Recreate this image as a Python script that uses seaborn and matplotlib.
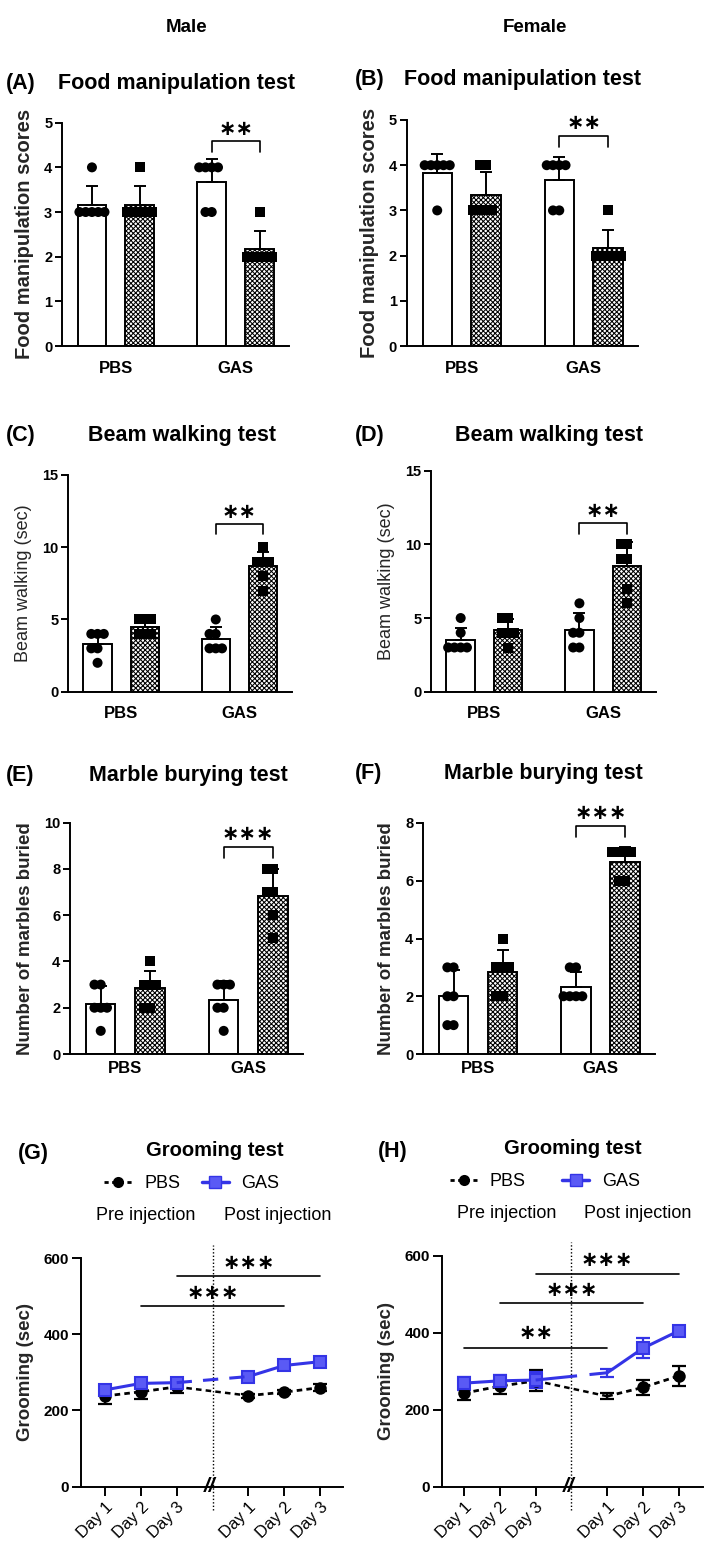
import matplotlib
matplotlib.use("Agg")
import matplotlib.pyplot as plt
import matplotlib.transforms as mtransforms
from matplotlib.lines import Line2D
import numpy as np
import pandas as pd
import seaborn as sns

# ---------------- data ----------------
treatments = ["PBS", "GAS"]
groups = ["Open", "Hatched"]          # open bar + circles, hatched bar + squares

# (A) Food manipulation, male
food_m_pbs_open = [4, 3, 3, 3, 3, 3]
food_m_pbs_hatch = [4, 3, 3, 3, 3, 3]
food_m_gas_open = [4, 4, 4, 4, 3, 3]
food_m_gas_hatch = [3, 2, 2, 2, 2, 2]
# (B) Food manipulation, female
food_f_pbs_open = [4, 4, 4, 4, 4, 3]
food_f_pbs_hatch = [4, 4, 3, 3, 3, 3]
food_f_gas_open = [4, 4, 4, 4, 3, 3]
food_f_gas_hatch = [3, 2, 2, 2, 2, 2]
# (C) Beam walking, male
beam_m_pbs_open = [4, 4, 4, 3, 3, 2]
beam_m_pbs_hatch = [5, 5, 5, 4, 4, 4]
beam_m_gas_open = [5, 4, 4, 3, 3, 3]
beam_m_gas_hatch = [10, 9, 9, 9, 8, 7]
# (D) Beam walking, female
beam_f_pbs_open = [5, 4, 3, 3, 3, 3]
beam_f_pbs_hatch = [5, 5, 4, 4, 4, 3]
beam_f_gas_open = [6, 5, 4, 4, 3, 3]
beam_f_gas_hatch = [10, 10, 9, 9, 7, 6]
# (E) Marble burying, male
marble_m_pbs_open = [3, 3, 2, 2, 2, 1]
marble_m_pbs_hatch = [4, 3, 3, 3, 2, 2]
marble_m_gas_open = [3, 3, 3, 2, 2, 1]
marble_m_gas_hatch = [8, 8, 7, 7, 6, 5]
# (F) Marble burying, female
marble_f_pbs_open = [3, 3, 2, 2, 1, 1]
marble_f_pbs_hatch = [4, 3, 3, 3, 2, 2]
marble_f_gas_open = [3, 3, 2, 2, 2, 2]
marble_f_gas_hatch = [7, 7, 7, 7, 6, 6]

# (G)/(H) Grooming (mean, error), pre injection Day1-3 then post injection Day1-3
day_labels = ["Day 1", "Day 2", "Day 3", "Day 1", "Day 2", "Day 3"]
groom_m_pbs = [238, 249, 262, 239, 248, 260]
groom_m_pbs_err = [20, 18, 16, 5, 6, 9]
groom_m_gas = [254, 271, 273, 289, 318, 328]
groom_m_gas_err = [14, 9, 8, 11, 9, 10]
groom_f_pbs = [243, 261, 275, 235, 258, 288]
groom_f_pbs_err = [19, 19, 27, 8, 19, 26]
groom_f_gas = [269, 275, 277, 296, 360, 405]
groom_f_gas_err = [17, 15, 20, 11, 26, 8]

# ---------------- style ----------------
sns.set_theme(style="ticks")
plt.rcParams["font.family"] = ["Liberation Sans", "DejaVu Sans"]
plt.rcParams["lines.scale_dashes"] = False
plt.rcParams["hatch.linewidth"] = 0.75
plt.rcParams["hatch.color"] = "black"
plt.rcParams["axes.linewidth"] = 1.4
plt.rcParams["text.color"] = "black"
plt.rcParams["xtick.color"] = "black"
plt.rcParams["ytick.color"] = "black"
plt.rcParams["axes.edgecolor"] = "black"

W, H = 709, 1555
fig = plt.figure(figsize=(W / 100, H / 100), dpi=100)
fig.patch.set_facecolor("white")

BLUE = "#3434e6"
BLUE_FILL = "#5a5af5"
STAR_FONT = dict(family="DejaVu Sans", fontweight="bold")


def rect(left, right, top, bottom):
    return [left / W, 1 - bottom / H, (right - left) / W, (bottom - top) / H]


def ftext(x, y, s, **kw):
    fig.text(x / W, 1 - y / H, s, **kw)


def make_df(pbs_open, pbs_hatch, gas_open, gas_hatch):
    rows = []
    for t, g, vals in [("PBS", "Open", pbs_open), ("PBS", "Hatched", pbs_hatch),
                       ("GAS", "Open", gas_open), ("GAS", "Hatched", gas_hatch)]:
        for v in vals:
            rows.append((t, g, v))
    return pd.DataFrame(rows, columns=["treatment", "group", "value"])


swarm_collections = []


def bar_panel(r, df, ymax, ystep, ylabel, ylab_size, ylab_weight, xpad,
              stars, br_top, br_low, star_y):
    ax = fig.add_axes(r)
    sns.barplot(data=df, x="treatment", y="value", hue="group", order=treatments,
                hue_order=groups, errorbar=None,
                palette={"Open": "white", "Hatched": "white"},
                edgecolor="black", linewidth=1.4, gap=0.4, legend=False, ax=ax,
                zorder=1)
    bar_conts = list(ax.containers[:2])
    for bar in bar_conts[1]:
        bar.set_hatch("xxxxxxx")
    stats = df.groupby(["treatment", "group"])["value"].agg(["mean", "std"])
    centers = {}
    for cont, g in zip(bar_conts, groups):
        for bar, t in zip(cont, treatments):
            xc = bar.get_x() + bar.get_width() / 2
            centers[(t, g)] = xc
            ax.errorbar(xc, stats.loc[(t, g), "mean"],
                        yerr=[[0], [stats.loc[(t, g), "std"]]], fmt="none",
                        ecolor="black", elinewidth=1.4, capsize=4.5, capthick=1.4,
                        zorder=2)
    n0 = len(ax.collections)
    for g, mk in zip(groups, ["o", "s"]):
        sns.swarmplot(data=df[df.group == g], x="treatment", y="value", hue="group",
                      order=treatments, hue_order=groups, dodge=True,
                      palette={"Open": "black", "Hatched": "black"}, marker=mk,
                      size=4.3, legend=False, ax=ax, zorder=4, warn_thresh=1)
    swarm_collections.extend(ax.collections[n0:])
    # significance bracket
    x1, x2 = centers[("GAS", "Open")], centers[("GAS", "Hatched")]
    ax.plot([x1, x1, x2, x2], [br_low, br_top, br_top, br_low], color="black",
            lw=1.2, clip_on=False, zorder=5)
    ax.text((x1 + x2) / 2, star_y, stars, ha="center", va="center", fontsize=15,
            clip_on=False, **STAR_FONT)
    ax.set_xlim(-0.45, 1.445)
    ax.set_ylim(0, ymax)
    ax.set_yticks(np.arange(0, ymax + 0.01, ystep))
    sns.despine(ax=ax)
    ax.tick_params(axis="x", length=0, pad=xpad, labelsize=12)
    ax.tick_params(axis="y", length=5, width=1.4, pad=2, labelsize=10.5)
    for lbl in ax.get_xticklabels() + ax.get_yticklabels():
        lbl.set_fontweight("bold")
    ax.set_xlabel("")
    ax.set_ylabel(ylabel, fontsize=ylab_size, fontweight=ylab_weight, labelpad=7)
    return ax


def groom_panel(r, pbs, pbs_err, gas, gas_err, sig, gas_gap_dash, hide_post1,
                xlim):
    ax = fig.add_axes(r)
    xs = np.arange(len(day_labels)) + (np.arange(len(day_labels)) >= 3)
    pre, post = slice(0, 3), slice(3, 6)
    post_mark = [1, 2] if hide_post1 else [0, 1, 2]
    pbs_style = (0, (4, 3))
    # error bars
    ax.errorbar(xs, pbs, yerr=pbs_err, fmt="none", ecolor="black", elinewidth=1.6,
                capsize=5, capthick=1.6, zorder=2)
    ax.errorbar(xs, gas, yerr=gas_err, fmt="none", ecolor=BLUE, elinewidth=1.6,
                capsize=5, capthick=1.6, zorder=2)
    # PBS lines
    sns.lineplot(x=xs[pre], y=pbs[pre], ax=ax, color="black", lw=2,
                 linestyle=pbs_style, marker="o", markersize=9,
                 markeredgewidth=0, zorder=3)
    sns.lineplot(x=xs[post], y=pbs[post], ax=ax, color="black", lw=2,
                 linestyle=pbs_style, marker="o", markersize=9, markeredgewidth=0,
                 markevery=post_mark, zorder=3)
    sns.lineplot(x=xs[2:4], y=pbs[2:4], ax=ax, color="black", lw=1.8,
                 linestyle=pbs_style, zorder=3)
    # GAS lines
    sns.lineplot(x=xs[pre], y=gas[pre], ax=ax, color=BLUE, lw=2.2,
                 marker="s", markersize=9, markerfacecolor=BLUE_FILL,
                 markeredgecolor=BLUE, markeredgewidth=1.5, zorder=4)
    sns.lineplot(x=xs[post], y=gas[post], ax=ax, color=BLUE, lw=2.2,
                 marker="s", markersize=9, markerfacecolor=BLUE_FILL,
                 markeredgecolor=BLUE, markeredgewidth=1.5, markevery=post_mark,
                 zorder=4)
    sns.lineplot(x=xs[2:4], y=gas[2:4], ax=ax, color=BLUE, lw=2.2,
                 linestyle=(0, gas_gap_dash), zorder=4)
    # break line and break mark
    ax.plot([3, 3], [-60, 635], color="black", lw=1, ls=(0, (1, 1.5)),
            clip_on=False, zorder=1)
    trans = mtransforms.blended_transform_factory(ax.transData, ax.transAxes)
    ax.text(2.93, 0.0, "//", transform=trans, ha="center", va="center",
            fontsize=15, fontweight="bold", fontstyle="italic", zorder=6)
    # significance lines
    for (a, b, yline, stars, ytext) in sig:
        ax.plot([xs[a], xs[b]], [yline, yline], color="black", lw=1.2, zorder=5)
        ax.text((xs[a] + xs[b]) / 2, ytext, stars, ha="center", va="center",
                fontsize=15, **STAR_FONT)
    ax.set_xlim(*xlim)
    ax.set_ylim(0, 600)
    ax.set_yticks([0, 200, 400, 600])
    ax.set_xticks(xs)
    ax.set_xticklabels(day_labels, rotation=45, ha="right", va="top",
                       rotation_mode="anchor", fontsize=12)
    sns.despine(ax=ax)
    ax.tick_params(axis="x", length=6.5, width=1.4, pad=3)
    ax.tick_params(axis="y", length=6.5, width=1.4, pad=2, labelsize=11)
    for lbl in ax.get_yticklabels():
        lbl.set_fontweight("bold")
    ax.set_xlabel("")
    ax.set_ylabel("Grooming (sec)", fontsize=13.5, fontweight="bold", labelpad=7)
    return ax


# ---------------- panels ----------------
bar_panel(rect(62, 289, 122.7, 346),
          make_df(food_m_pbs_open, food_m_pbs_hatch, food_m_gas_open, food_m_gas_hatch),
          5, 1, "Food manipulation scores", 14.5, "bold", 11, "∗∗", 4.58, 4.34, 4.86)
bar_panel(rect(406.7, 638, 120, 346),
          make_df(food_f_pbs_open, food_f_pbs_hatch, food_f_gas_open, food_f_gas_hatch),
          5, 1, "Food manipulation scores", 14.5, "bold", 11, "∗∗", 4.65, 4.4, 4.93)
bar_panel(rect(68, 292, 475, 691.7),
          make_df(beam_m_pbs_open, beam_m_pbs_hatch, beam_m_gas_open, beam_m_gas_hatch),
          15, 5, "Beam walking (sec)", 13, "normal", 10.5, "∗∗", 11.58, 10.9, 12.45)
bar_panel(rect(431, 656, 470.7, 691.7),
          make_df(beam_f_pbs_open, beam_f_pbs_hatch, beam_f_gas_open, beam_f_gas_hatch),
          15, 5, "Beam walking (sec)", 13, "normal", 10.5, "∗∗", 11.43, 10.68, 12.25)
bar_panel(rect(70, 303, 822.7, 1054),
          make_df(marble_m_pbs_open, marble_m_pbs_hatch, marble_m_gas_open, marble_m_gas_hatch),
          10, 2, "Number of marbles buried", 13.5, "bold", 5, "∗∗∗", 8.96, 8.46, 9.52)
bar_panel(rect(423, 655, 823, 1054),
          make_df(marble_f_pbs_open, marble_f_pbs_hatch, marble_f_gas_open, marble_f_gas_hatch),
          8, 2, "Number of marbles buried", 13.5, "bold", 5, "∗∗∗", 7.88, 7.5, 8.33)

groom_panel(rect(81, 343, 1258, 1486.7),
            np.array(groom_m_pbs), groom_m_pbs_err, np.array(groom_m_gas), groom_m_gas_err,
            [(2, 5, 553, "∗∗∗", 587), (1, 4, 475, "∗∗∗", 508)],
            (11, 8), False, (-0.67, 6.64))
groom_panel(rect(441.7, 703, 1255.7, 1486.7),
            np.array(groom_f_pbs), groom_f_pbs_err, np.array(groom_f_gas), groom_f_gas_err,
            [(2, 5, 552, "∗∗∗", 590), (1, 4, 476, "∗∗∗", 512), (0, 3, 361, "∗∗", 398)],
            (30, 9), True, (-0.62, 6.67))

# ---------------- titles / headers ----------------
ftext(187, 28, "Male", ha="center", va="center", fontsize=13.5, fontweight="bold")
ftext(535, 28, "Female", ha="center", va="center", fontsize=13.5, fontweight="bold")

TF = dict(va="center", fontsize=15.5, fontweight="bold")
for (lx, tx, y, letter, title) in [
        (6, 176, 84, "(A)", "Food manipulation test"),
        (355, 523, 80, "(B)", "Food manipulation test"),
        (6, 182, 435, "(C)", "Beam walking test"),
        (355, 549, 435, "(D)", "Beam walking test"),
        (6, 188, 775, "(E)", "Marble burying test"),
        (355, 543, 773, "(F)", "Marble burying test")]:
    ftext(lx, y, letter, ha="left", **TF)
    ftext(tx, y, title, ha="center", **TF)

ftext(18, 1153, "(G)", ha="left", **TF)
ftext(215, 1151, "Grooming test", ha="center", va="center", fontsize=14.5, fontweight="bold")
ftext(378, 1151, "(H)", ha="left", **TF)
ftext(573, 1148, "Grooming test", ha="center", va="center", fontsize=14.5, fontweight="bold")

pbs_handle = Line2D([], [], color="black", lw=2, linestyle=(0, (3, 2.5)), marker="o",
                    markersize=8, markeredgewidth=0)
gas_handle = Line2D([], [], color=BLUE, lw=2.5, marker="s", markersize=8,
                    markerfacecolor=BLUE_FILL, markeredgecolor=BLUE)
for (cx, cy, cs) in [(192, 1184, 1.2), (545, 1182, 2.0)]:
    fig.legend([pbs_handle, gas_handle], ["PBS", "GAS"], loc="center",
               bbox_to_anchor=(cx / W, 1 - cy / H), ncol=2, frameon=False,
               fontsize=13, handlelength=1.5, handletextpad=0.7, columnspacing=cs)

ftext(146, 1216, "Pre injection", ha="center", va="center", fontsize=13)
ftext(278, 1216, "Post injection", ha="center", va="center", fontsize=13)
ftext(507, 1213, "Pre injection", ha="center", va="center", fontsize=13)
ftext(638, 1213, "Post injection", ha="center", va="center", fontsize=13)

# ---------------- swarm points: layout computed by seaborn, then enlarged ----------------
fig.canvas.draw()
for coll in swarm_collections:
    coll.__dict__.pop("draw", None)
    coll.set_sizes([7.2 ** 2])

fig.savefig("out.png", dpi=100, facecolor="white")
